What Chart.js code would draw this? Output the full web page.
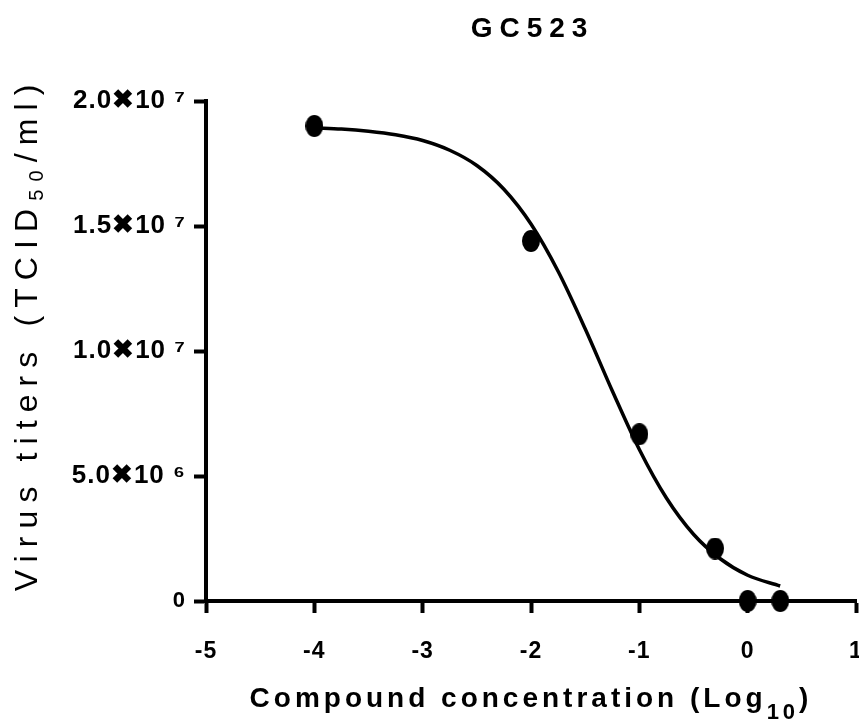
<!DOCTYPE html>
<html>
<head>
<meta charset="utf-8">
<title>GC523</title>
<script src="https://cdn.jsdelivr.net/npm/chart.js@4.4.1/dist/chart.umd.min.js"></script>
<style>
  html, body { margin: 0; padding: 0; background: #fff; }
  canvas { display: block; }
</style>
</head>
<body>
<canvas id="chart" width="859" height="721"></canvas>
<script>
// measured titers, x = log10 of the compound concentration
const doseLog = [-4, -2, -1, -0.301, 0, 0.301];
const titers = [1.9e7, 1.44e7, 6.67e6, 2.1e6, 0, 0];

// fitted dose-response curve
const fitLog = [-4, -3.75, -3.5, -3.25, -3, -2.75, -2.5, -2.25, -2, -1.75, -1.5, -1.25, -1, -0.75, -0.5, -0.25, 0, 0.3];
const fitTiters = [1.893e7, 1.888e7, 1.879e7, 1.865e7, 1.842e7, 1.803e7, 1.742e7, 1.647e7, 1.508e7, 1.319e7,
  1.089e7, 8.41e6, 6.06e6, 4.12e6, 2.67e6, 1.68e6, 1.03e6, 6.0e5];

const xTicks = [-5, -4, -3, -2, -1, 0, 1];
const yTicks = [0, 5e6, 1e7, 1.5e7, 2e7];
const yTickLabels = ['0', '5.0✖10 ⁶', '1.0✖10 ⁷', '1.5✖10 ⁷', '2.0✖10 ⁷'];

const SANS = '"Liberation Sans", Arial, sans-serif';

// slightly tall black dot, like the exported markers
function dotMarker() {
  const c = document.createElement('canvas');
  c.width = 18;
  c.height = 22;
  const g = c.getContext('2d');
  g.fillStyle = '#000';
  g.beginPath();
  g.ellipse(9, 11, 9, 11, 0, 0, Math.PI * 2);
  g.fill();
  return c;
}

// text with spaced letters and sub/superscript parts, centred on x
function drawRich(ctx, parts, x, y, spacing, rotate) {
  ctx.save();
  ctx.translate(x, y);
  if (rotate) ctx.rotate(-Math.PI / 2);
  ctx.letterSpacing = spacing + 'px';
  ctx.textAlign = 'left';
  ctx.textBaseline = 'alphabetic';
  ctx.fillStyle = '#000';
  let total = 0;
  parts.forEach(p => { ctx.font = p.font; total += ctx.measureText(p.text).width; });
  total -= spacing;
  let cx = -total / 2;
  parts.forEach(p => {
    ctx.font = p.font;
    ctx.fillText(p.text, cx, p.dy || 0);
    cx += ctx.measureText(p.text).width;
  });
  ctx.restore();
}

const titlesPlugin = {
  id: 'titles',
  beforeDraw(chart) {
    chart.ctx.letterSpacing = '1px';
  },
  afterDraw(chart) {
    const ctx = chart.ctx;
    drawRich(ctx, [{ text: 'GC523', font: 'bold 28px ' + SANS }], 529, 37, 7);
    drawRich(ctx, [
      { text: 'Compound concentration (Log', font: 'bold 28px ' + SANS },
      { text: '10', font: 'bold 22px ' + SANS, dy: 12 },
      { text: ')', font: 'bold 28px ' + SANS }
    ], 529, 707, 4);
    drawRich(ctx, [
      { text: 'Virus titers (TCID', font: '32px ' + SANS },
      { text: '50', font: '20px ' + SANS, dy: 6 },
      { text: '/ml)', font: '32px ' + SANS }
    ], 37, 338, 8.1, true);
  }
};

new Chart(document.getElementById('chart'), {
  type: 'scatter',
  data: {
    datasets: [
      {
        label: 'GC523',
        data: doseLog.map((x, i) => ({ x: x, y: titers[i] })),
        pointStyle: dotMarker(),
        pointRadius: 2,
        pointBorderWidth: 0,
        pointHoverRadius: 2,
        clip: false,
        order: 0
      },
      {
        type: 'line',
        label: 'fit',
        data: fitLog.map((x, i) => ({ x: x, y: fitTiters[i] })),
        borderColor: '#000',
        borderWidth: 3.5,
        pointRadius: 0,
        pointHoverRadius: 0,
        fill: false,
        cubicInterpolationMode: 'monotone',
        order: 1
      }
    ]
  },
  options: {
    responsive: false,
    animation: false,
    devicePixelRatio: 1,
    layout: { padding: { top: 101, right: 3, left: 0, bottom: 0 } },
    plugins: {
      legend: { display: false },
      tooltip: { enabled: false },
      title: { display: false }
    },
    scales: {
      x: {
        type: 'linear',
        min: -5,
        max: 1,
        afterBuildTicks: s => { s.ticks = xTicks.map(v => ({ value: v })); },
        afterFit: s => { s.height = 120; s.paddingLeft = 0; s.paddingRight = 0; },
        border: { display: true, color: '#000', width: 4 },
        grid: { drawOnChartArea: false, drawTicks: true, tickLength: 12, tickWidth: 4, tickColor: '#000' },
        ticks: {
          color: '#000',
          padding: 25,
          maxRotation: 0,
          font: { family: SANS, size: 23, weight: 'bold' }
        }
      },
      y: {
        type: 'linear',
        min: 0,
        max: 2e7,
        afterBuildTicks: s => { s.ticks = yTicks.map(v => ({ value: v })); },
        afterFit: s => { s.width = 206; s.paddingTop = 0; s.paddingBottom = 0; },
        border: { display: true, color: '#000', width: 4 },
        grid: { drawOnChartArea: false, drawTicks: true, tickLength: 12, tickWidth: 4, tickColor: '#000' },
        ticks: {
          color: '#000',
          padding: 8,
          callback: v => yTickLabels[yTicks.indexOf(v)],
          font: c => ({ family: SANS, size: c.tick && c.tick.value === 0 ? 22 : 26, weight: 'bold' })
        }
      }
    }
  },
  plugins: [titlesPlugin]
});
</script>
</body>
</html>
